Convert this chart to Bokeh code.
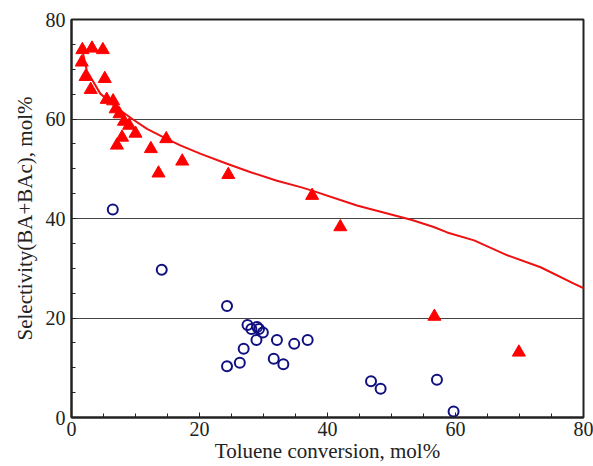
from bokeh.plotting import figure
from bokeh.models import FixedTicker, Range1d
from bokeh.embed import file_html
from bokeh.resources import INLINE

# Triangles (red, filled): selectivity data set 1
tri_x = [1.7, 3.2, 4.9, 1.6, 2.2, 3.0, 5.2, 5.5, 6.5, 6.9, 7.5, 8.2, 9.0, 10.0, 7.9, 7.1,
         12.4, 14.8, 13.6, 17.3, 24.5, 37.6, 42.0, 56.7, 69.9]
tri_y = [73.9, 74.2, 73.9, 71.4, 68.5, 65.9, 68.1, 63.9, 63.6, 62.0, 61.0, 59.5, 58.7, 57.1, 56.3, 54.7,
         54.0, 56.0, 49.1, 51.5, 48.8, 44.6, 38.3, 20.3, 13.1]

# Open circles (navy): selectivity data set 2
cir_x = [6.45, 14.1, 24.3, 27.5, 28.1, 29.0, 29.3, 29.9, 28.9, 26.9, 26.3, 24.3, 32.1, 31.6,
         33.1, 34.8, 36.9, 46.8, 48.3, 57.1, 59.7]
cir_y = [41.8, 29.7, 22.4, 18.6, 17.8, 18.2, 17.8, 17.1, 15.6, 13.8, 11.0, 10.3, 15.6, 11.8,
         10.7, 14.8, 15.6, 7.3, 5.8, 7.6, 1.2]

# Red fitted curve
fit_x = [1.7, 2.4, 4.5, 6.9, 9.5, 11.8, 14.4, 17.0, 20.2, 24.3, 28.0, 32.1, 35.8, 37.6,
         44.6, 53.2, 56.6, 58.7, 62.9, 68.1, 73.3, 78.5, 81.3]
fit_y = [73.8, 69.7, 65.1, 62.4, 60.0, 58.0, 56.3, 54.7, 53.0, 51.0, 49.3, 47.6, 46.3, 45.6,
         42.6, 39.7, 38.3, 37.2, 35.6, 32.6, 30.2, 26.9, 25.2]

x_ticks = [0, 20, 40, 60, 80]
y_ticks = [0, 20, 40, 60, 80]
grid_lines = [20, 40, 60]

FONT = "Liberation Serif"

p = figure(frame_width=512, frame_height=398, output_backend="svg", toolbar_location=None,
           x_range=Range1d(0, 80), y_range=Range1d(0, 80),
           min_border_left=71, min_border_right=10, min_border_top=19, min_border_bottom=0)

p.xgrid.visible = False
p.ygrid.ticker = FixedTicker(ticks=grid_lines)
p.ygrid.grid_line_color = "#444444"
p.ygrid.grid_line_width = 1.2

p.outline_line_color = "#222222"
p.outline_line_width = 2

for ax, ticks in ((p.xaxis[0], x_ticks), (p.yaxis[0], y_ticks)):
    ax.ticker = FixedTicker(ticks=ticks, minor_ticks=list(range(0, 81, 5)))
    ax.major_tick_in = 5
    ax.major_tick_out = 0
    ax.minor_tick_in = 4
    ax.minor_tick_out = 0
    ax.axis_line_color = "#222222"
    ax.axis_line_width = 2
    ax.major_tick_line_color = "#222222"
    ax.minor_tick_line_color = "#222222"
    ax.major_label_text_font = FONT
    ax.major_label_text_font_size = "20px"
    ax.major_label_text_color = "#222222"
    ax.axis_label_text_font = FONT
    ax.axis_label_text_font_size = "21px"
    ax.axis_label_text_font_style = "normal"
    ax.axis_label_text_color = "#222222"

p.xaxis.axis_label = "Toluene conversion, mol%"
p.yaxis.axis_label = "Selectivity(BA+BAc), mol%"
p.xaxis.major_label_standoff = 4
p.yaxis.major_label_standoff = 6
p.xaxis.axis_label_standoff = 0
p.yaxis.axis_label_standoff = 6

p.line(fit_x, fit_y, line_color="#ee1111", line_width=2)
p.scatter(tri_x, tri_y, marker="triangle", size=13, fill_color="#ff0000", line_color="#ff0000")
p.scatter(cir_x, cir_y, marker="circle", size=10, fill_color=None, line_color="#101080", line_width=2)

open("out.html", "w").write(file_html(p, INLINE))
